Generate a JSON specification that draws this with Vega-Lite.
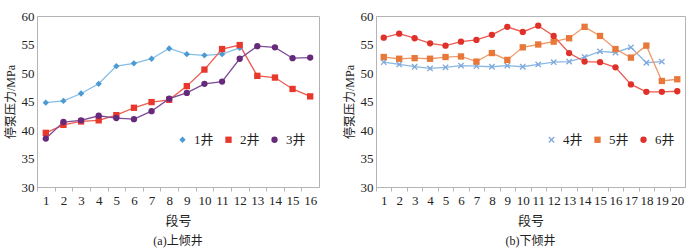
{
  "$schema": "https://vega.github.io/schema/vega-lite/v6.json",
  "padding": {"left": 3, "top": 9, "right": 5, "bottom": 0},
  "spacing": 22,
  "resolve": {"scale": {"color": "independent", "shape": "independent", "stroke": "independent"}, "legend": {"color": "independent", "shape": "independent", "stroke": "independent"}},
  "config": {
    "font": "'Liberation Serif', 'Noto Sans CJK SC'",
    "view": {"stroke": "#b4b4b4", "strokeWidth": 1},
    "axis": {
      "domainColor": "#b4b4b4", "tickColor": "#b4b4b4", "grid": false,
      "labelFont": "'Liberation Serif', 'Noto Sans CJK SC'", "labelFontSize": 13, "labelColor": "#222",
      "titleFont": "'Liberation Serif', 'Noto Sans CJK SC'", "titleFontSize": 12, "titleFontWeight": "normal", "titleColor": "#222"
    },
    "legend": {"labelFont": "'Liberation Serif', 'Noto Sans CJK SC'", "labelFontSize": 13, "labelColor": "#222", "gridAlign": "all", "columnPadding": 8, "labelOffset": 5, "symbolSize": 40, "direction": "horizontal", "orient": "none"},
    "title": {"font": "'Liberation Serif', 'Noto Sans CJK SC'", "fontSize": 12, "fontWeight": "normal", "color": "#222", "orient": "bottom", "offset": 9}
  },
  "datasets": {
    "a": [
      {"well": "1井", "seg": 1, "p": 44.8}, {"well": "1井", "seg": 2, "p": 45.1}, {"well": "1井", "seg": 3, "p": 46.4}, {"well": "1井", "seg": 4, "p": 48.1},
      {"well": "1井", "seg": 5, "p": 51.2}, {"well": "1井", "seg": 6, "p": 51.7}, {"well": "1井", "seg": 7, "p": 52.5}, {"well": "1井", "seg": 8, "p": 54.3},
      {"well": "1井", "seg": 9, "p": 53.3}, {"well": "1井", "seg": 10, "p": 53.1}, {"well": "1井", "seg": 11, "p": 53.3}, {"well": "1井", "seg": 12, "p": 54.4},
      {"well": "2井", "seg": 1, "p": 39.5}, {"well": "2井", "seg": 2, "p": 40.9}, {"well": "2井", "seg": 3, "p": 41.5}, {"well": "2井", "seg": 4, "p": 41.7},
      {"well": "2井", "seg": 5, "p": 42.6}, {"well": "2井", "seg": 6, "p": 43.9}, {"well": "2井", "seg": 7, "p": 44.9}, {"well": "2井", "seg": 8, "p": 45.3},
      {"well": "2井", "seg": 9, "p": 47.7}, {"well": "2井", "seg": 10, "p": 50.6}, {"well": "2井", "seg": 11, "p": 54.2}, {"well": "2井", "seg": 12, "p": 54.9},
      {"well": "2井", "seg": 13, "p": 49.5}, {"well": "2井", "seg": 14, "p": 49.2}, {"well": "2井", "seg": 15, "p": 47.2}, {"well": "2井", "seg": 16, "p": 45.9},
      {"well": "3井", "seg": 1, "p": 38.5}, {"well": "3井", "seg": 2, "p": 41.4}, {"well": "3井", "seg": 3, "p": 41.7}, {"well": "3井", "seg": 4, "p": 42.5},
      {"well": "3井", "seg": 5, "p": 42.1}, {"well": "3井", "seg": 6, "p": 41.9}, {"well": "3井", "seg": 7, "p": 43.3}, {"well": "3井", "seg": 8, "p": 45.5},
      {"well": "3井", "seg": 9, "p": 46.5}, {"well": "3井", "seg": 10, "p": 48.1}, {"well": "3井", "seg": 11, "p": 48.5}, {"well": "3井", "seg": 12, "p": 52.5},
      {"well": "3井", "seg": 13, "p": 54.7}, {"well": "3井", "seg": 14, "p": 54.5}, {"well": "3井", "seg": 15, "p": 52.6}, {"well": "3井", "seg": 16, "p": 52.7}
    ],
    "b": [
      {"well": "4井", "seg": 1, "p": 51.9}, {"well": "4井", "seg": 2, "p": 51.5}, {"well": "4井", "seg": 3, "p": 51.1}, {"well": "4井", "seg": 4, "p": 50.8},
      {"well": "4井", "seg": 5, "p": 51.0}, {"well": "4井", "seg": 6, "p": 51.3}, {"well": "4井", "seg": 7, "p": 51.2}, {"well": "4井", "seg": 8, "p": 51.1},
      {"well": "4井", "seg": 9, "p": 51.3}, {"well": "4井", "seg": 10, "p": 51.1}, {"well": "4井", "seg": 11, "p": 51.5}, {"well": "4井", "seg": 12, "p": 51.9},
      {"well": "4井", "seg": 13, "p": 52.0}, {"well": "4井", "seg": 14, "p": 52.8}, {"well": "4井", "seg": 15, "p": 53.8}, {"well": "4井", "seg": 16, "p": 53.6},
      {"well": "4井", "seg": 17, "p": 54.5}, {"well": "4井", "seg": 18, "p": 51.8}, {"well": "4井", "seg": 19, "p": 52.0},
      {"well": "5井", "seg": 1, "p": 52.8}, {"well": "5井", "seg": 2, "p": 52.5}, {"well": "5井", "seg": 3, "p": 52.6}, {"well": "5井", "seg": 4, "p": 52.5},
      {"well": "5井", "seg": 5, "p": 52.8}, {"well": "5井", "seg": 6, "p": 52.9}, {"well": "5井", "seg": 7, "p": 52.0}, {"well": "5井", "seg": 8, "p": 53.5},
      {"well": "5井", "seg": 9, "p": 52.3}, {"well": "5井", "seg": 10, "p": 54.5}, {"well": "5井", "seg": 11, "p": 55.0}, {"well": "5井", "seg": 12, "p": 55.5},
      {"well": "5井", "seg": 13, "p": 56.1}, {"well": "5井", "seg": 14, "p": 58.1}, {"well": "5井", "seg": 15, "p": 56.5}, {"well": "5井", "seg": 16, "p": 54.2},
      {"well": "5井", "seg": 17, "p": 52.7}, {"well": "5井", "seg": 18, "p": 54.8}, {"well": "5井", "seg": 19, "p": 48.6}, {"well": "5井", "seg": 20, "p": 48.9},
      {"well": "6井", "seg": 1, "p": 56.2}, {"well": "6井", "seg": 2, "p": 56.9}, {"well": "6井", "seg": 3, "p": 56.1}, {"well": "6井", "seg": 4, "p": 55.2},
      {"well": "6井", "seg": 5, "p": 54.8}, {"well": "6井", "seg": 6, "p": 55.5}, {"well": "6井", "seg": 7, "p": 55.8}, {"well": "6井", "seg": 8, "p": 56.7},
      {"well": "6井", "seg": 9, "p": 58.1}, {"well": "6井", "seg": 10, "p": 57.2}, {"well": "6井", "seg": 11, "p": 58.3}, {"well": "6井", "seg": 12, "p": 56.5},
      {"well": "6井", "seg": 13, "p": 53.5}, {"well": "6井", "seg": 14, "p": 52.0}, {"well": "6井", "seg": 15, "p": 51.9}, {"well": "6井", "seg": 16, "p": 51.0},
      {"well": "6井", "seg": 17, "p": 48.0}, {"well": "6井", "seg": 18, "p": 46.7}, {"well": "6井", "seg": 19, "p": 46.7}, {"well": "6井", "seg": 20, "p": 46.8}
    ]
  },
  "hconcat": [
    {
      "width": 282, "height": 171,
      "title": "(a)上倾井",
      "data": {"name": "a"},
      "encoding": {
        "x": {"field": "seg", "type": "quantitative", "title": "段号",
              "scale": {"domain": [0.5, 16.5], "nice": false, "zero": false},
              "axis": {"values": [1,2,3,4,5,6,7,8,9,10,11,12,13,14,15,16], "format": "d", "tickOffset": -8.8, "labelOffset": 8.8, "tickSize": 4, "labelPadding": 3, "titlePadding": 7, "titleFontSize": 13}},
        "y": {"field": "p", "type": "quantitative", "title": "停泵压力/MPa",
              "scale": {"domain": [30, 60], "nice": false, "zero": false},
              "axis": {"values": [30,35,40,45,50,55,60], "ticks": false, "labelPadding": 3, "titlePadding": 4}}
      },
      "layer": [
        {"mark": {"type": "line", "strokeWidth": 1.3},
         "encoding": {"stroke": {"field": "well", "type": "nominal", "legend": null,
            "scale": {"range": ["#86bde6","#ee5a4e","#7d4a96"]}}}},
        {"mark": {"type": "point", "filled": true, "opacity": 1, "size": 40},
         "encoding": {
           "color": {"field": "well", "type": "nominal", "title": null,
             "scale": {"domain": ["1井","2井","3井"], "range": ["#4a9bd4","#e8382c","#662a7c"]},
             "legend": {"legendX": 139, "legendY": 117}},
           "shape": {"field": "well", "type": "nominal", "title": null,
             "scale": {"domain": ["1井","2井","3井"], "range": ["diamond","square","circle"]},
             "legend": {"legendX": 139, "legendY": 117}}
         }}
      ]
    },
    {
      "width": 309, "height": 171,
      "title": "(b)下倾井",
      "data": {"name": "b"},
      "encoding": {
        "x": {"field": "seg", "type": "quantitative", "title": "段号",
              "scale": {"domain": [0.5, 20.5], "nice": false, "zero": false},
              "axis": {"values": [1,2,3,4,5,6,7,8,9,10,11,12,13,14,15,16,17,18,19,20], "format": "d", "tickOffset": -7.725, "labelOffset": 7.725, "tickSize": 4, "labelPadding": 3, "titlePadding": 7, "titleFontSize": 13}},
        "y": {"field": "p", "type": "quantitative", "title": "停泵压力/MPa",
              "scale": {"domain": [30, 60], "nice": false, "zero": false},
              "axis": {"values": [30,35,40,45,50,55,60], "ticks": false, "labelPadding": 3, "titlePadding": 4}}
      },
      "layer": [
        {"mark": {"type": "line", "strokeWidth": 1.3},
         "encoding": {"stroke": {"field": "well", "type": "nominal", "legend": null,
            "scale": {"range": ["#8ab8e2","#ef9a6a","#ec5a50"]}}}},
        {"mark": {"type": "point", "filled": true, "opacity": 1, "size": 40},
         "encoding": {
           "color": {"field": "well", "type": "nominal", "title": null,
             "scale": {"domain": ["4井","5井","6井"], "range": ["#7fa8dc","#e8773a","#e0302a"]},
             "legend": {"legendX": 169, "legendY": 117}},
           "shape": {"field": "well", "type": "nominal", "title": null,
             "scale": {"domain": ["4井","5井","6井"], "range": ["M-1,-0.7L-0.7,-1L0,-0.3L0.7,-1L1,-0.7L0.3,0L1,0.7L0.7,1L0,0.3L-0.7,1L-1,0.7L-0.3,0Z","square","circle"]},
             "legend": {"legendX": 169, "legendY": 117}}
         }}
      ]
    }
  ]
}
